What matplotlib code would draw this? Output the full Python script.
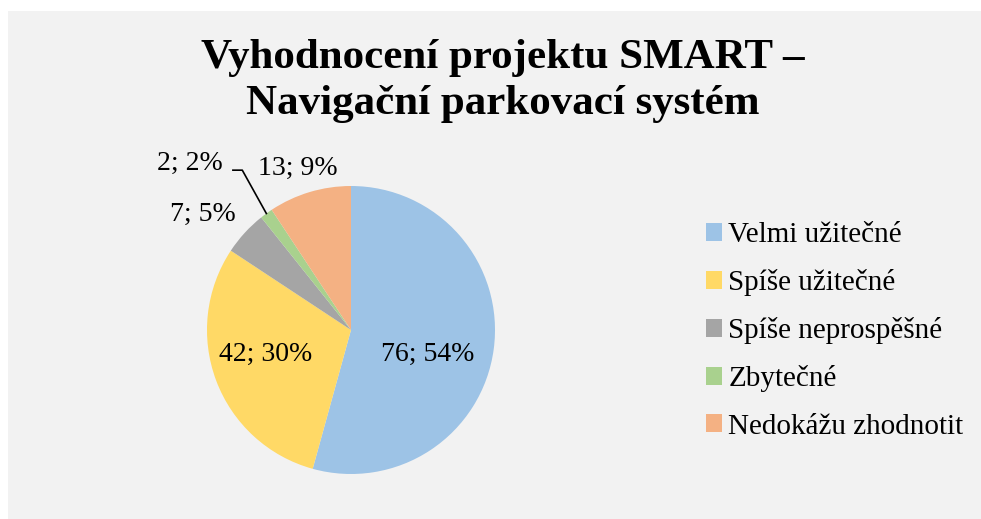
import numpy as np
import matplotlib.pyplot as plt
from matplotlib.patches import Patch, Rectangle

# Data
kategorie = ["Velmi užitečné", "Spíše užitečné", "Spíše neprospěšné",
             "Zbytečné", "Nedokážu zhodnotit"]
pocty = [76, 42, 7, 2, 13]
procenta = ["54%", "30%", "5%", "2%", "9%"]
barvy = ["#9DC3E6", "#FFD966", "#A5A5A5", "#A9D18E", "#F4B183"]

plt.rcParams['font.family'] = ['Liberation Serif', 'DejaVu Serif']

W, H = 981, 519
fig = plt.figure(figsize=(W / 100, H / 100), dpi=100)
fig.patch.set_facecolor("white")
fig.patches.append(Rectangle((8 / W, 0), 1 - 8 / W, 1 - 11 / H,
                             transform=fig.transFigure, facecolor="#F2F2F2",
                             edgecolor="none", zorder=-10))

# Pie axes (center ~ (351,330) px, radius 144 px)
cx, cy, r = 351, 330, 144
ax = fig.add_axes([(cx - r) / W, (H - cy - r) / H, 2 * r / W, 2 * r / H])
ax.set_facecolor("none")
wedges, _ = ax.pie(pocty, colors=barvy, startangle=90, counterclock=False,
                   radius=1, wedgeprops=dict(linewidth=0))
ax.set_xlim(-1, 1)
ax.set_ylim(-1, 1)
ax.set_aspect("equal")
ax.axis("off")

popisky = [f"{p}; {q}" for p, q in zip(pocty, procenta)]
pozice = [(0.53, -0.17), (-0.59, -0.17), (-1.03, 0.80), (-1.12, 1.16), (-0.37, 1.125)]
for txt, (x, y) in zip(popisky, pozice):
    ax.text(x, y, txt, ha="center", va="center", fontsize=20, clip_on=False)

# leader line for the small slice
w = wedges[3]
ang = np.deg2rad((w.theta1 + w.theta2) / 2)
ex, ey = np.cos(ang), np.sin(ang)
ax.plot([-0.82, -0.755, ex], [1.11, 1.11, ey], color="black", lw=1.2,
        clip_on=False)

# Title
fig.text(503 / W, 1 - 58 / H, "Vyhodnocení projektu SMART –", ha="center",
         va="center", fontsize=31, fontweight="bold")
fig.text(503 / W, 1 - 104 / H, "Navigační parkovací systém", ha="center",
         va="center", fontsize=31, fontweight="bold")

# Legend
handles = [Patch(facecolor=c, edgecolor="none") for c in barvy]
fig.legend(handles, kategorie, loc="center left",
           bbox_to_anchor=(706 / W, 1 - 331 / H), frameon=False,
           fontsize=21, handlelength=0.55, handleheight=0.55,
           handletextpad=0.22, labelspacing=0.72, borderaxespad=0,
           borderpad=0)

fig.savefig("out.png", dpi=100, facecolor=fig.get_facecolor())
